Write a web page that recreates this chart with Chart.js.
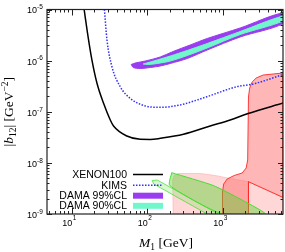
<!DOCTYPE html>
<html>
<head>
<meta charset="utf-8">
<script src="https://cdn.jsdelivr.net/npm/chart.js@4.4.0/dist/chart.umd.min.js"></script>
<style>
    html, body { margin: 0; padding: 0; background: #fff; }
    canvas { display: block; }
</style>
</head>
<body>
<canvas id="chart" width="285" height="252"></canvas>
<script>
// XENON100 limit (solid black)
const xenonM = [14.6, 16.2, 18.5, 21.6, 26.4, 32.4, 35.8, 53.8, 80.8, 110, 149, 302, 683, 1257, 2177, 6330];
const xenonB = [1.0e-5, 3.42e-6, 1.03e-6, 3.6e-7, 1.46e-7, 6.9e-8, 5.26e-8, 3.35e-8, 2.89e-8, 2.87e-8, 3.02e-8, 3.62e-8, 5.26e-8, 6.9e-8, 9.24e-8, 1.48e-7];

// KIMS limit (dotted blue)
const kimsM = [27.1, 29.3, 34.1, 43.9, 59.5, 94.1, 149, 274, 618, 1542, 2535, 6330];
const kimsB = [1.0e-5, 2.53e-6, 7.6e-7, 3.09e-7, 1.83e-7, 1.30e-7, 1.22e-7, 1.36e-7, 1.97e-7, 3.09e-7, 3.49e-7, 5.35e-7];

// DAMA regions (closed contours)
const dama99M = [61.4, 69.4, 94.1, 149, 221, 371, 623, 1705, 6330, 6330, 1705, 623, 339, 202, 149, 110, 80.8, 65.3, 61.4];
const dama99B = [8.40e-7, 8.98e-7, 9.83e-7, 1.18e-6, 1.51e-6, 2.02e-6, 2.71e-6, 4.35e-6, 8.54e-6, 5.32e-6, 2.90e-6, 1.61e-6, 1.10e-6, 8.79e-7, 7.85e-7, 7.34e-7, 7.01e-7, 7.34e-7, 8.40e-7];
const dama90M = [88.5, 110, 136, 202, 339, 623, 1705, 6330, 6330, 1705, 623, 339, 202, 136, 103, 88.5];
const dama90B = [8.59e-7, 9.40e-7, 1.03e-6, 1.23e-6, 1.58e-6, 2.16e-6, 3.71e-6, 7.46e-6, 5.96e-6, 3.24e-6, 1.77e-6, 1.26e-6, 9.83e-7, 8.79e-7, 8.40e-7, 8.59e-7];

// red / pink regions
const pinkM = [221, 218, 228, 257, 504, 796, 1257, 2197, 6330, 6330];
const pinkB = [9e-10, 4.62e-9, 5.66e-9, 6.20e-9, 6.20e-9, 5.66e-9, 4.95e-9, 4.28e-9, 2.10e-9, 9e-10];
const redM = [994, 994, 1031, 1147, 1420, 1813, 2048, 2144, 2197, 2278, 2459, 2778, 3440, 6330, 6330, 2197, 2197];
const redB = [9e-10, 2.69e-9, 3.86e-9, 4.84e-9, 5.66e-9, 6.34e-9, 7.94e-9, 1.14e-8, 1.94e-7, 2.91e-7, 3.82e-7, 4.57e-7, 5.23e-7, 5.73e-7, 2.10e-9, 4.28e-9, 9e-10];

// green regions
const greenM = [211, 199, 985, 3656, 1705, 748, 211];
const greenB = [6.42e-9, 3.61e-9, 1e-9, 1e-9, 1.96e-9, 3.61e-9, 6.42e-9];
const stripM = [116.5, 135.7, 872, 623, 122, 116.5];
const stripB = [4.52e-9, 4.62e-9, 1e-9, 1e-9, 3.86e-9, 4.52e-9];

// axes
const xTickValues = [10, 100, 1000];
const xTickExps = ['1', '2', '3'];
const yTickValues = [1e-9, 1e-8, 1e-7, 1e-6, 1e-5];
const yTickExps = ['-9', '-8', '-7', '-6', '-5'];
const legendLabels = ['XENON100', 'KIMS', 'DAMA 99%CL', 'DAMA 90%CL'];

const zip = (xs, ys) => xs.map((x, i) => ({ x, y: ys[i] }));

const SANS = '"Liberation Sans", Arial, sans-serif';
const SERIF = '"Liberation Serif", "Times New Roman", serif';

const datasets = [
    { data: zip(xenonM, xenonB), borderColor: '#000', borderWidth: 1.5, cubicInterpolationMode: 'monotone', fill: false },
    { data: zip(kimsM, kimsB), borderColor: '#3030ff', borderWidth: 1.5, borderDash: [1.5, 1.5], cubicInterpolationMode: 'monotone', fill: false },
    { data: zip(dama90M, dama90B), borderColor: '#70f8cc', backgroundColor: '#70f8cc', borderWidth: 1, tension: 0.3, fill: 'shape' },
    { data: zip(dama99M, dama99B), borderColor: '#9b3cf0', backgroundColor: '#9b3cf0', borderWidth: 1, tension: 0.3, fill: 'shape' },
    { data: zip(greenM, greenB), borderColor: '#44dd33', backgroundColor: 'rgba(80,215,40,0.42)', borderWidth: 1, tension: 0.2, fill: 'shape' },
    { data: zip(stripM, stripB), borderColor: 'rgba(60,220,40,0.7)', backgroundColor: 'rgba(120,230,90,0.28)', borderWidth: 1, fill: 'shape' },
    { data: zip(redM, redB), borderColor: 'rgba(255,40,40,0.9)', backgroundColor: 'rgba(255,110,110,0.5)', borderWidth: 1, fill: 'shape' },
    { data: zip(pinkM, pinkB), borderColor: 'rgba(255,170,170,0.6)', backgroundColor: 'rgba(255,160,160,0.42)', borderWidth: 1, fill: 'shape' },
];

// draws frame, inward ticks, labels, legend, axis titles
const decorPlugin = {
    id: 'decor',
    afterDatasetsDraw(chart) {
        const { ctx, chartArea: a, scales: { x, y } } = chart;
        ctx.save();

        ctx.strokeStyle = '#222';
        ctx.lineWidth = 1;
        ctx.beginPath();
        for (let e = 0; e <= 3; e++) {
            for (let k = 1; k < 10; k++) {
                const v = k * Math.pow(10, e);
                if (v < x.min || v > x.max) continue;
                const px = Math.round(x.getPixelForValue(v)) + 0.5;
                const len = k === 1 ? 6 : 3;
                ctx.moveTo(px, a.bottom); ctx.lineTo(px, a.bottom - len);
                ctx.moveTo(px, a.top); ctx.lineTo(px, a.top + len);
            }
        }
        for (let e = -9; e <= -5; e++) {
            for (let k = 1; k < 10; k++) {
                const v = k * Math.pow(10, e);
                if (v < y.min * 0.999 || v > y.max * 1.001) continue;
                const py = Math.round(y.getPixelForValue(v)) + 0.5;
                const len = k === 1 ? 5 : 2.5;
                ctx.moveTo(a.left, py); ctx.lineTo(a.left + len, py);
                ctx.moveTo(a.right, py); ctx.lineTo(a.right - len, py);
            }
        }
        ctx.stroke();

        ctx.lineWidth = 1.2;
        ctx.strokeRect(a.left, a.top, a.right - a.left, a.bottom - a.top);

        // tick labels
        ctx.fillStyle = '#000';
        ctx.textBaseline = 'middle';
        xTickValues.forEach((v, i) => {
            const px = x.getPixelForValue(v);
            ctx.font = `9px ${SANS}`;
            ctx.textAlign = 'right';
            ctx.fillText('10', px + 0.5, a.bottom + 9.5);
            ctx.font = `6.5px ${SANS}`;
            ctx.textAlign = 'left';
            ctx.fillText(xTickExps[i], px + 1, a.bottom + 4.5);
        });
        yTickValues.forEach((v, i) => {
            const py = y.getPixelForValue(v);
            ctx.font = `9px ${SANS}`;
            ctx.textAlign = 'right';
            ctx.fillText('10', 37, py + 1.5);
            ctx.font = `6.5px ${SANS}`;
            ctx.textAlign = 'left';
            ctx.fillText(yTickExps[i], 37, py - 2);
        });

        // legend
        const rows = [174.5, 185.3, 195.7, 205.8];
        ctx.font = `10.5px ${SANS}`;
        ctx.textAlign = 'right';
        legendLabels.forEach((label, i) => {
            ctx.fillStyle = '#000';
            ctx.fillText(label, 127, rows[i] + 0.5);
        });
        ctx.strokeStyle = '#000';
        ctx.lineWidth = 1.5;
        ctx.beginPath(); ctx.moveTo(133, rows[0]); ctx.lineTo(163, rows[0]); ctx.stroke();
        ctx.strokeStyle = '#3030ff';
        ctx.setLineDash([1.5, 1.5]);
        ctx.beginPath(); ctx.moveTo(133, rows[1]); ctx.lineTo(163, rows[1]); ctx.stroke();
        ctx.setLineDash([]);
        ctx.fillStyle = '#9b3cf0';
        ctx.fillRect(133, rows[2] - 3, 30, 6);
        ctx.fillStyle = '#70f8cc';
        ctx.fillRect(133, rows[3] - 3, 30, 6);

        // x title: M_1 [GeV]
        ctx.fillStyle = '#000';
        ctx.textBaseline = 'alphabetic';
        ctx.textAlign = 'left';
        const xParts = [
            { t: 'M', f: `italic 13.5px ${SERIF}`, dy: 0 },
            { t: '1', f: `9.5px ${SERIF}`, dy: 3 },
            { t: ' [GeV]', f: `13.5px ${SERIF}`, dy: 0 },
        ];
        drawParts(ctx, xParts, (a.left + a.right) / 2 + 1, 246.5);

        // y title: |b_12| [GeV^-2]
        ctx.save();
        ctx.translate(13, (a.top + a.bottom) / 2);
        ctx.rotate(-Math.PI / 2);
        const yParts = [
            { t: '|', f: `13.5px ${SERIF}`, dy: 0 },
            { t: 'b', f: `italic 13.5px ${SERIF}`, dy: 0 },
            { t: '12', f: `9.5px ${SERIF}`, dy: 3 },
            { t: '| [GeV', f: `13.5px ${SERIF}`, dy: 0 },
            { t: '\u22122', f: `9.5px ${SERIF}`, dy: -5.5 },
            { t: ']', f: `13.5px ${SERIF}`, dy: 0 },
        ];
        drawParts(ctx, yParts, 0, 0);
        ctx.restore();

        ctx.restore();
    },
};

function drawParts(ctx, parts, cx, baseline) {
    let total = 0;
    parts.forEach((p) => { ctx.font = p.f; p.w = ctx.measureText(p.t).width; total += p.w; });
    let cur = cx - total / 2;
    parts.forEach((p) => {
        ctx.font = p.f;
        ctx.fillText(p.t, cur, baseline + p.dy);
        cur += p.w;
    });
}

new Chart(document.getElementById('chart'), {
    type: 'scatter',
    data: { datasets: datasets.map((d) => ({ ...d, showLine: true, pointRadius: 0 })) },
    options: {
        responsive: false,
        animation: false,
        devicePixelRatio: 1,
        layout: { padding: { left: 47, right: 2, top: 9.5, bottom: 38 } },
        plugins: { legend: { display: false }, tooltip: { enabled: false } },
        scales: {
            x: { type: 'logarithmic', min: 4.7, max: 6300, display: false },
            y: { type: 'logarithmic', min: 1e-9, max: 1e-5, display: false },
        },
    },
    plugins: [decorPlugin],
});
</script>
</body>
</html>
